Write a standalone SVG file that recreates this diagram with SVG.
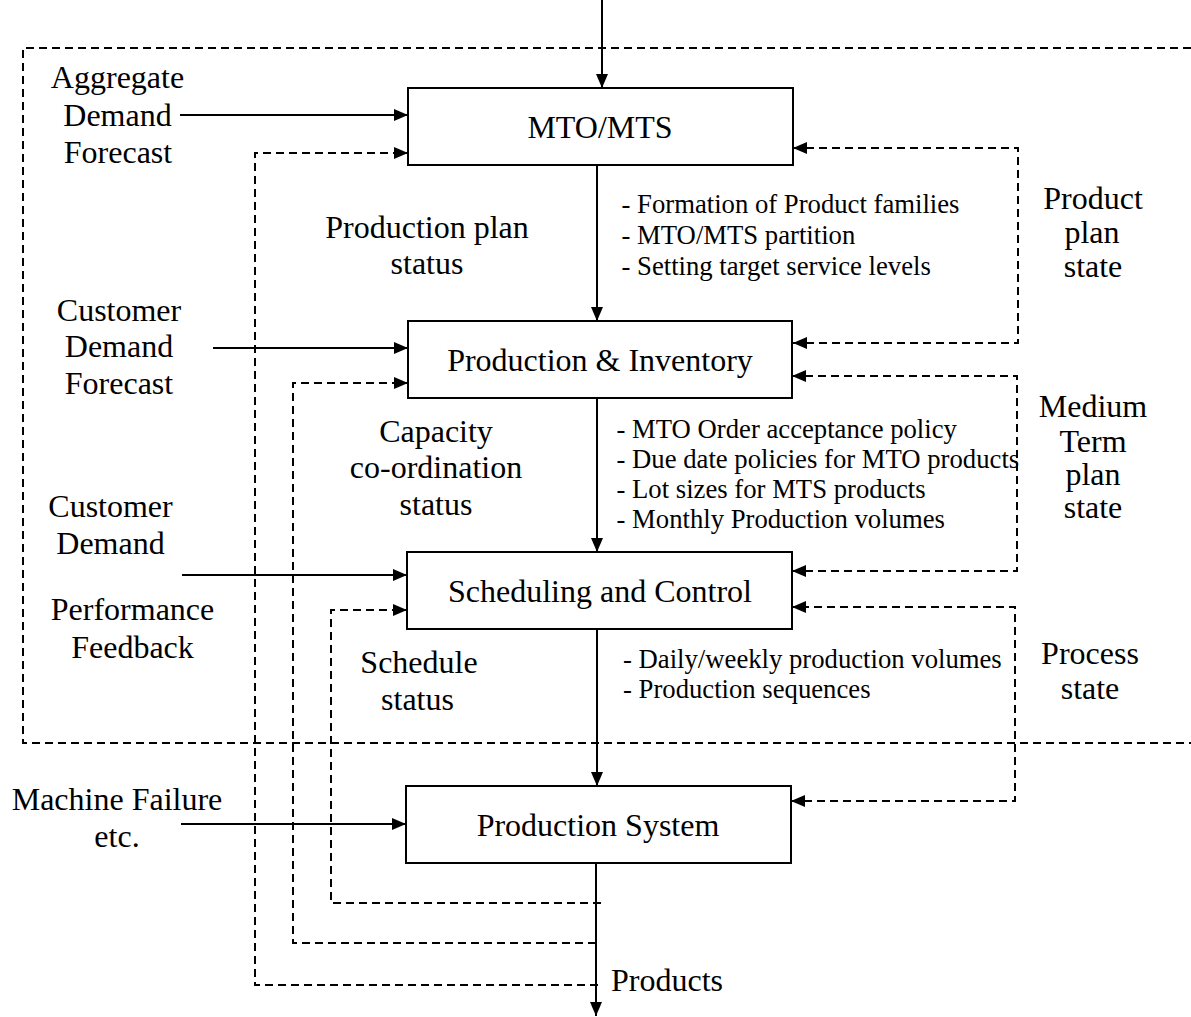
<svg xmlns="http://www.w3.org/2000/svg" width="1191" height="1017" viewBox="0 0 1191 1017">
  <defs>
    <marker id="arrow" markerUnits="userSpaceOnUse" markerWidth="14" markerHeight="12" refX="14" refY="6" orient="auto-start-reverse">
      <path d="M0,0 L14,6 L0,12 z" fill="#000"/>
    </marker>
    <style>
      .box { fill: #fff; stroke: #000; stroke-width: 2; }
      .solid { fill: none; stroke: #000; stroke-width: 2; }
      .dash { fill: none; stroke: #000; stroke-width: 2; stroke-dasharray: 8 5; }
      .lbl { font-family: "Liberation Serif", "Times New Roman", serif; font-size: 32px; fill: #000; }
      .mid { text-anchor: middle; }
      .note { font-family: "Liberation Serif", "Times New Roman", serif; font-size: 26.7px; fill: #000; }
    </style>
  </defs>

  <rect width="1191" height="1017" fill="#fff"/>

  <!-- planning boundary -->
  <g id="boundary">
    <path class="dash" d="M1191,48 H23 V743 H1191"/>
  </g>

  <g id="connectors">
    <!-- main downward flow -->
    <path class="solid" d="M602,0 V88" marker-end="url(#arrow)"/>
    <path class="solid" d="M597,165 V321" marker-end="url(#arrow)"/>
    <path class="solid" d="M597,398 V552" marker-end="url(#arrow)"/>
    <path class="solid" d="M597,629 V786" marker-end="url(#arrow)"/>
    <path class="solid" d="M596,863 V1016" marker-end="url(#arrow)"/>

    <!-- external inputs -->
    <path class="solid" d="M180,115 H408" marker-end="url(#arrow)"/>
    <path class="solid" d="M213,348 H408" marker-end="url(#arrow)"/>
    <path class="solid" d="M182,575 H407" marker-end="url(#arrow)"/>
    <path class="solid" d="M181,824 H406" marker-end="url(#arrow)"/>

    <!-- status feedback from production output -->
    <path class="dash" d="M598,985 H255 V153 H408" marker-end="url(#arrow)"/>
    <path class="dash" d="M596,943 H293 V383 H408" marker-end="url(#arrow)"/>
    <path class="dash" d="M601,903 H331 V610 H407" marker-end="url(#arrow)"/>

    <!-- state links on the right -->
    <path class="dash" d="M793,343 H1018 V148 H793" marker-start="url(#arrow)" marker-end="url(#arrow)"/>
    <path class="dash" d="M792,571 H1017 V376 H792" marker-start="url(#arrow)" marker-end="url(#arrow)"/>
    <path class="dash" d="M791,801 H1015 V607 H792" marker-start="url(#arrow)" marker-end="url(#arrow)"/>
  </g>

  <!-- nodes -->
  <g id="mto-mts">
    <rect class="box" x="408" y="88" width="385" height="77"/>
    <text class="lbl mid" x="600" y="138">MTO/MTS</text>
  </g>
  <g id="production-inventory">
    <rect class="box" x="408" y="321" width="384" height="77"/>
    <text class="lbl mid" x="600" y="371">Production &amp; Inventory</text>
  </g>
  <g id="scheduling-control">
    <rect class="box" x="407" y="552" width="385" height="77"/>
    <text class="lbl mid" x="600" y="602">Scheduling and Control</text>
  </g>
  <g id="production-system">
    <rect class="box" x="406" y="786" width="385" height="77"/>
    <text class="lbl mid" x="598" y="836">Production System</text>
  </g>

  <!-- input labels -->
  <g id="input-labels">
    <text class="lbl mid" x="117.5" y="88">Aggregate</text>
    <text class="lbl mid" x="117.5" y="126">Demand</text>
    <text class="lbl mid" x="118" y="163">Forecast</text>

    <text class="lbl mid" x="119" y="321">Customer</text>
    <text class="lbl mid" x="119" y="357">Demand</text>
    <text class="lbl mid" x="119" y="394">Forecast</text>

    <text class="lbl mid" x="110.5" y="517">Customer</text>
    <text class="lbl mid" x="110.5" y="554">Demand</text>
    <text class="lbl mid" x="132.5" y="620">Performance</text>
    <text class="lbl mid" x="132.5" y="658">Feedback</text>

    <text class="lbl mid" x="117" y="810">Machine Failure</text>
    <text class="lbl mid" x="117" y="847">etc.</text>

    <text class="lbl" x="611" y="991">Products</text>
  </g>

  <!-- status labels -->
  <g id="status-labels">
    <text class="lbl mid" x="427" y="238">Production plan</text>
    <text class="lbl mid" x="427" y="274">status</text>

    <text class="lbl mid" x="436" y="442">Capacity</text>
    <text class="lbl mid" x="436" y="478">co-ordination</text>
    <text class="lbl mid" x="436" y="515">status</text>

    <text class="lbl mid" x="419" y="673">Schedule</text>
    <text class="lbl mid" x="417.5" y="710">status</text>
  </g>

  <!-- state labels -->
  <g id="state-labels">
    <text class="lbl mid" x="1093" y="209">Product</text>
    <text class="lbl mid" x="1092" y="243">plan</text>
    <text class="lbl mid" x="1093" y="277">state</text>

    <text class="lbl mid" x="1093" y="417">Medium</text>
    <text class="lbl mid" x="1093" y="452">Term</text>
    <text class="lbl mid" x="1093" y="485">plan</text>
    <text class="lbl mid" x="1093" y="518">state</text>

    <text class="lbl mid" x="1090" y="664">Process</text>
    <text class="lbl mid" x="1090" y="699">state</text>
  </g>

  <!-- decision notes -->
  <g id="notes">
    <text class="note" x="621.5" y="213">- Formation of Product families</text>
    <text class="note" x="621.5" y="244">- MTO/MTS partition</text>
    <text class="note" x="621.5" y="275">- Setting target service levels</text>

    <text class="note" x="616.5" y="438">- MTO Order acceptance policy</text>
    <text class="note" x="616.5" y="468">- Due date policies for MTO products</text>
    <text class="note" x="616.5" y="498">- Lot sizes for MTS products</text>
    <text class="note" x="616.5" y="528">- Monthly Production volumes</text>

    <text class="note" x="623" y="668">- Daily/weekly production volumes</text>
    <text class="note" x="623" y="698">- Production sequences</text>
  </g>
</svg>
